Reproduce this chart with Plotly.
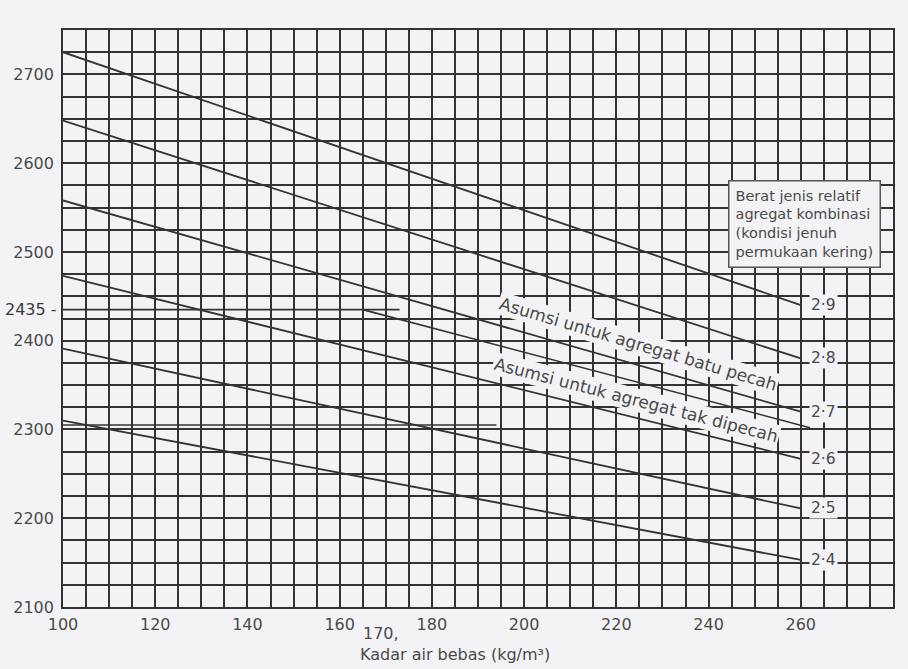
import plotly.graph_objects as go

# Relative density of combined aggregate (SSD) for each curve
density_labels = ["2·4", "2·5", "2·6", "2·7", "2·8", "2·9"]
# Free water content range covered by the curves (kg/m³)
water_ends = [100, 260]
# Wet concrete density at the two ends of each curve (kg/m³)
density_at_100 = [2310, 2391, 2473, 2558, 2648, 2725]
density_at_260 = [2153, 2211, 2267, 2320, 2380, 2440]

# Axis tick labels
x_ticks = [100, 120, 140, 160, 180, 200, 220, 240, 260]
y_ticks = [2100, 2200, 2300, 2400, 2500, 2600, 2700]

# Reading lines drawn over the chart
read_h_x = [100, 173]
read_h_y = [2435, 2435]
read_slope_x = [165, 262]
read_slope_y = [2435, 2302]
read_low_x = [100, 194]
read_low_y = [2305, 2305]
read_v_x = [185, 185]
read_v_y = [2364, 2100]
read_value = 2435
read_water = 170

PAPER = "#f3f3f5"
INK = "#333333"
TEXT = "#4a4a4a"
FONT = "DejaVu Sans"

fig = go.Figure()

for lab, y0, y1 in zip(density_labels, density_at_100, density_at_260):
    fig.add_trace(go.Scatter(
        x=water_ends, y=[y0, y1], mode="lines",
        line=dict(color=INK, width=1.8), showlegend=False, hoverinfo="skip"))
    fig.add_annotation(
        x=265, y=y1, text=lab, showarrow=False,
        font=dict(family=FONT, size=15.5, color=TEXT),
        bgcolor=PAPER, borderpad=1, xanchor="center", yanchor="middle")

for xs, ys in [(read_h_x, read_h_y), (read_slope_x, read_slope_y),
               (read_low_x, read_low_y), (read_v_x, read_v_y)]:
    fig.add_trace(go.Scatter(
        x=xs, y=ys, mode="lines", line=dict(color=INK, width=1.6),
        showlegend=False, hoverinfo="skip"))

# Rotated assumption notes
fig.add_annotation(
    x=224.7, y=2396, text="Asumsi untuk agregat batu pecah", showarrow=False,
    textangle=16.5, font=dict(family=FONT, size=17, color=TEXT),
    bgcolor=PAPER, borderpad=1)
fig.add_annotation(
    x=224.3, y=2333, text="Asumsi untuk agregat tak dipecah", showarrow=False,
    textangle=14.5, font=dict(family=FONT, size=17, color=TEXT),
    bgcolor=PAPER, borderpad=1)

# Legend note box
fig.add_annotation(
    x=260.8, y=2531,
    text="Berat jenis relatif<br>agregat kombinasi<br>(kondisi jenuh<br>permukaan kering)",
    showarrow=False, align="left", xanchor="center", yanchor="middle",
    font=dict(family=FONT, size=14.5, color=TEXT),
    bgcolor=PAPER, bordercolor="#555555", borderwidth=1.5, borderpad=6)

# Marked reading values on the axes
fig.add_annotation(
    x=0, xref="paper", y=read_value, text=f"{read_value} -", showarrow=False,
    xanchor="right", xshift=-4, yanchor="middle",
    font=dict(family=FONT, size=16, color="#3a3a3a"))
fig.add_annotation(
    x=read_water - 1, y=0, yref="paper", text=f"{read_water},", showarrow=False,
    xanchor="center", yanchor="top", yshift=-15,
    font=dict(family=FONT, size=16, color=TEXT))

# Axis title
fig.add_annotation(
    x=185, y=0, yref="paper", text="Kadar air bebas (kg/m³)", showarrow=False,
    xanchor="center", yanchor="top", yshift=-36,
    font=dict(family=FONT, size=16, color=TEXT))

grid = dict(showgrid=True, gridcolor=INK, gridwidth=1.7)

fig.update_layout(
    width=908, height=669,
    margin=dict(l=63, r=15, t=30, b=62),
    paper_bgcolor=PAPER, plot_bgcolor=PAPER,
    font=dict(family=FONT, size=16, color=TEXT),
    xaxis=dict(
        range=[100, 280], tickvals=x_ticks, ticktext=[str(v) for v in x_ticks],
        ticks="", zeroline=False, showline=True, mirror=True,
        linecolor=INK, linewidth=1.7, ticklabelstandoff=2,
        minor=dict(tick0=100, dtick=5, **grid), **grid),
    yaxis=dict(
        range=[2100, 2750], tickvals=y_ticks, ticktext=[str(v) for v in y_ticks],
        ticks="", zeroline=False, showline=True, mirror=True,
        linecolor=INK, linewidth=1.7, ticklabelstandoff=4,
        minor=dict(tick0=2100, dtick=25, **grid), **grid),
)

fig.write_html("out.html")
